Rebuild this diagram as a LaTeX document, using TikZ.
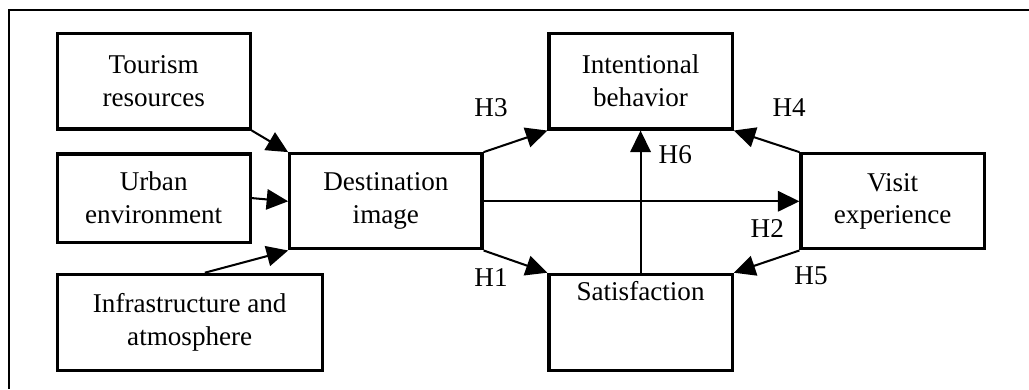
\documentclass[tikz,border=0pt]{standalone}
\usepackage{fontspec}
\setmainfont{Liberation Serif}
\usetikzlibrary{arrows.meta}

\begin{document}
\begin{tikzpicture}[
    font=\fontsize{12}{14.5}\selectfont,
    box/.style={draw, line width=1.4pt, align=center, inner sep=0pt},
    link/.style={line width=0.9pt, -{Triangle[length=9.5pt,width=9pt]}},
    hyp/.style={inner sep=0pt}
]
    %\draw[help lines] (0,0) grid (16,6);
    \useasboundingbox (0,0) rectangle (16.00,6.05);
    \draw[line width=0.9pt] (16.00,5.89) -- (0.14,5.89) -- (0.14,0);

    \node[box, minimum width=3.00cm, minimum height=1.49cm] (tourism) at (2.39,4.79) {Tourism\\resources};
    \node[box, minimum width=3.00cm, minimum height=1.37cm] (urban) at (2.39,2.97) {Urban\\environment};
    \node[box, minimum width=4.12cm, minimum height=1.49cm] (infra) at (2.95,1.04) {Infrastructure and\\atmosphere};
    \node[box, minimum width=2.99cm, minimum height=1.48cm] (destimage) at (6.00,2.92) {Destination\\image};
    \node[box, minimum width=2.85cm, minimum height=1.49cm] (intention) at (9.96,4.79) {Intentional\\behavior};
    \node[box, minimum width=2.85cm, minimum height=1.49cm, text height=8pt, text depth=27.5pt] (satisfy) at (9.96,1.04) {Satisfaction};
    \node[box, minimum width=2.85cm, minimum height=1.48cm] (visitexp) at (13.88,2.92) {Visit\\experience};

    \draw[link] (tourism.south east) -- (destimage.north west);
    \draw[link] (urban.east) -- (destimage.west);
    \draw[link] (infra.73) -- (destimage.south west);
    \draw[link] (destimage.north east) -- (intention.south west);
    \draw[link] (destimage.south east) -- (satisfy.north west);
    \draw[link] (destimage.east) -- (visitexp.west);
    \draw[link] (visitexp.north west) -- (intention.south east);
    \draw[link] (visitexp.south west) -- (satisfy.north east);
    \draw[link] (satisfy.north) -- (intention.south);

    \node[hyp] (hthree) at (7.635,4.37) {H3};
    \node[hyp] (hone) at (7.635,1.74) {H1};
    \node[hyp] (hsix) at (10.50,3.64) {H6};
    \node[hyp] (hfour) at (12.27,4.37) {H4};
    \node[hyp] (htwo) at (11.93,2.50) {H2};
    \node[hyp] (hfive) at (12.61,1.76) {H5};
\end{tikzpicture}
\end{document}
